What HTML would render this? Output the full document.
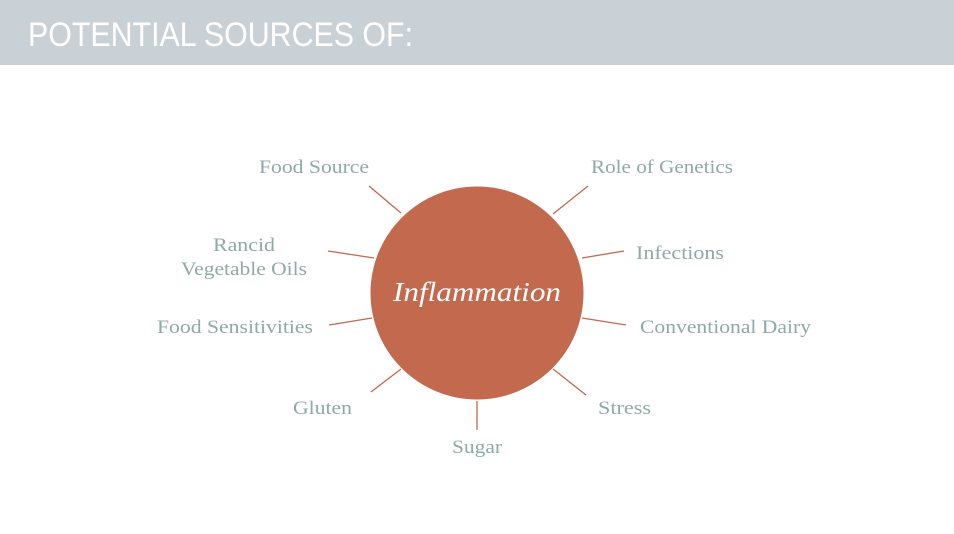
<!DOCTYPE html>
<html><head><style>
html,body{margin:0;padding:0;background:#fff;width:954px;height:534px;overflow:hidden}
</style></head><body>
<svg width="954" height="534" xmlns="http://www.w3.org/2000/svg">
<rect x="0" y="0" width="954" height="65" fill="#c9d1d6"/>
<text x="28" y="46" font-family="DejaVu Sans ExtraLight, Liberation Sans, sans-serif" font-weight="200" font-size="34" fill="#fff" textLength="385" lengthAdjust="spacingAndGlyphs">POTENTIAL SOURCES OF:</text>
<g stroke="#c2694e" stroke-width="1.3">
<line x1="369" y1="186" x2="401" y2="213"/>
<line x1="328" y1="251" x2="374" y2="258"/>
<line x1="329" y1="325" x2="372" y2="318"/>
<line x1="371" y1="392" x2="401" y2="369"/>
<line x1="477" y1="401" x2="477" y2="430"/>
<line x1="553" y1="369" x2="586" y2="395"/>
<line x1="582" y1="318" x2="626" y2="325"/>
<line x1="582" y1="258" x2="624" y2="251"/>
<line x1="553" y1="214" x2="588" y2="186"/>
</g>
<circle cx="477" cy="293" r="106.5" fill="#c2694e"/>
<text x="477" y="301" text-anchor="middle" font-family="Liberation Serif, serif" font-style="italic" font-size="27" fill="#fff" textLength="168" lengthAdjust="spacingAndGlyphs">Inflammation</text>
<g font-family="Liberation Serif, serif" font-size="19" fill="#8fa9a6">
<text x="259" y="173" textLength="110" lengthAdjust="spacingAndGlyphs">Food Source</text>
<text x="244" y="251" text-anchor="middle" textLength="62" lengthAdjust="spacingAndGlyphs">Rancid</text>
<text x="181" y="275" textLength="126" lengthAdjust="spacingAndGlyphs">Vegetable Oils</text>
<text x="157" y="333" textLength="156" lengthAdjust="spacingAndGlyphs">Food Sensitivities</text>
<text x="293" y="414" textLength="59" lengthAdjust="spacingAndGlyphs">Gluten</text>
<text x="452" y="453" textLength="50" lengthAdjust="spacingAndGlyphs">Sugar</text>
<text x="598" y="414" textLength="53" lengthAdjust="spacingAndGlyphs">Stress</text>
<text x="640" y="333" textLength="171" lengthAdjust="spacingAndGlyphs">Conventional Dairy</text>
<text x="636" y="259" textLength="88" lengthAdjust="spacingAndGlyphs">Infections</text>
<text x="591" y="173" textLength="142" lengthAdjust="spacingAndGlyphs">Role of Genetics</text>
</g>
</svg>
</body></html>
